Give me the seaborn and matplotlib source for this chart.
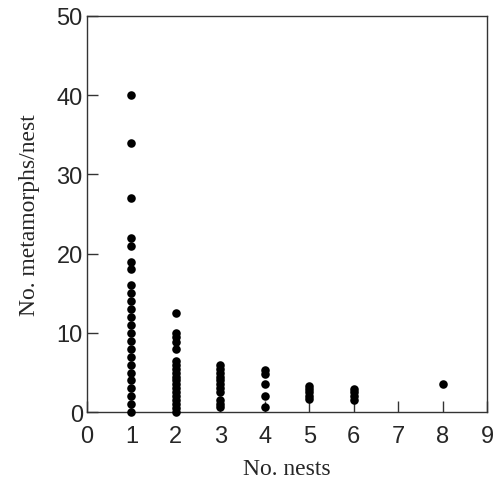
import numpy as np
import pandas as pd
import matplotlib
matplotlib.use("Agg")
import matplotlib.pyplot as plt
import seaborn as sns

# Values
nests_1 = [40, 34, 27, 22, 21, 19, 18, 16, 15, 14, 13, 12, 11, 10, 9, 8, 7, 6, 5, 4, 3, 2, 1, 0]
nests_2 = [12.5, 10, 9.5, 8.8, 8, 6.5, 6, 5.5, 5, 4.5, 4, 3.5, 3, 2.5, 2, 1.5, 1, 0.5, 0]
nests_3 = [6, 5.5, 5, 4.5, 4, 3.5, 3, 2.5, 1.5, 1, 0.7]
nests_4 = [5.3, 4.8, 3.5, 2, 0.7]
nests_5 = [3.3, 2.9, 2.5, 2.1, 1.7]
nests_6 = [2.9, 2.5, 2.0, 1.5]
nests_8 = [3.5]

groups = {1: nests_1, 2: nests_2, 3: nests_3, 4: nests_4, 5: nests_5, 6: nests_6, 8: nests_8}
df = pd.DataFrame(
    [(k, v) for k, vals in groups.items() for v in vals],
    columns=["nests", "metamorphs"],
)

sns.set_style("ticks")
fig = plt.figure(figsize=(4.97, 4.81), dpi=100)
ax = fig.add_axes([0.175, 0.141, 0.805, 0.824])

sns.scatterplot(data=df, x="nests", y="metamorphs", ax=ax, color="black",
                s=38, edgecolor="black", linewidth=0, clip_on=False, zorder=3)

ax.set_xlim(0, 9)
ax.set_ylim(0, 50)
ax.set_xticks(range(0, 10))
ax.set_yticks(range(0, 51, 10))
for s in ax.spines.values():
    s.set_color("#333333")
    s.set_linewidth(1.0)
ax.tick_params(direction="in", length=8, width=1, color="#333333", labelsize=17)
ax.tick_params(axis="x", pad=9)
ax.tick_params(axis="y", pad=3)
for lab in ax.get_xticklabels() + ax.get_yticklabels():
    lab.set_family("Liberation Sans")

ax.set_xlabel("No. nests", family="Liberation Serif", fontsize=17, labelpad=8)
ax.set_ylabel("No. metamorphs/nest", family="Liberation Serif", fontsize=17, labelpad=12)

fig.savefig("out.png", dpi=100)
